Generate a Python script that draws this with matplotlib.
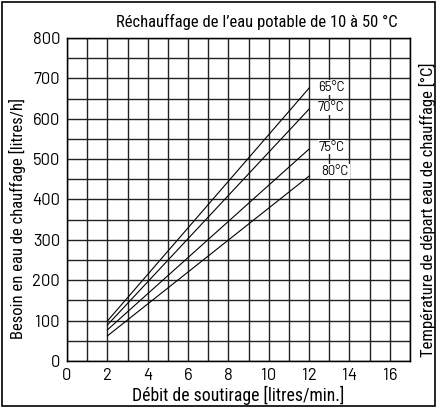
import numpy as np
import matplotlib
matplotlib.use("Agg")
import matplotlib.pyplot as plt
from matplotlib.patches import Rectangle

# flow rate [l/min] and heating water demand [l/h] per supply temperature
debit = [2, 12]
besoin_65 = [99, 676]
besoin_70 = [89, 624]
besoin_75 = [77, 525]
besoin_80 = [62, 458]
temps = ["65°C", "70°C", "75°C", "80°C"]
label_x = [13.1, 13.1, 13.1, 13.3]
label_y = [678, 627, 530, 470]

x_ticks = [0, 2, 4, 6, 8, 10, 12, 14, 16]
y_ticks = [0, 100, 200, 300, 400, 500, 600, 700, 800]

plt.rcParams['font.family'] = ['Roboto Condensed', 'DejaVu Sans']

fig = plt.figure(figsize=(4.37, 4.08), dpi=100)
ax = fig.add_axes([0.1533, 0.1152, 0.7849, 0.7917])

# grid
for xv in range(0, 18):
    ax.axvline(xv, color="#222222", lw=1.0, zorder=1)
for yv in range(0, 801, 50):
    ax.axhline(yv, color="#222222", lw=1.0, zorder=1)

for ys in [besoin_65, besoin_70, besoin_75, besoin_80]:
    ax.plot(debit, ys, color="black", lw=0.8, zorder=3)

for t, lx, ly in zip(temps, label_x, label_y):
    ax.text(lx, ly, t, ha="center", va="center", fontsize=9.5, family="Barlow",
            bbox=dict(facecolor="white", edgecolor="none", pad=0.6), zorder=4)

ax.set_xlim(0, 17)
ax.set_ylim(0, 800)
ax.set_xticks(x_ticks)
ax.set_yticks(y_ticks)
ax.tick_params(length=0, labelsize=12, pad=5)
for lab in ax.get_xticklabels() + ax.get_yticklabels():
    lab.set_family("Barlow")
for s in ax.spines.values():
    s.set_color("black")
    s.set_linewidth(1.0)

ax.set_xlabel("Débit de soutirage [litres/min.]", fontsize=12.7, labelpad=2)
ax.set_ylabel("Besoin en eau de chauffage [litres/h]", fontsize=12)
ax.yaxis.set_label_coords(-0.12, 0.44)
ax2 = ax.twinx()
ax2.set_yticks([])
ax2.set_ylabel("Température de départ eau de chauffage [°C]", fontsize=12)
ax2.yaxis.set_label_coords(1.025, 0.467)

fig.text(0.587, 0.946, "Réchauffage de l\u2019eau potable de 10 à 50 °C", ha="center", va="center", fontsize=12)

fig.patches.append(Rectangle((0.005, 0.005), 0.99, 0.99, transform=fig.transFigure,
                             fill=False, edgecolor="black", lw=1.2))

fig.savefig("out.png", dpi=100)
